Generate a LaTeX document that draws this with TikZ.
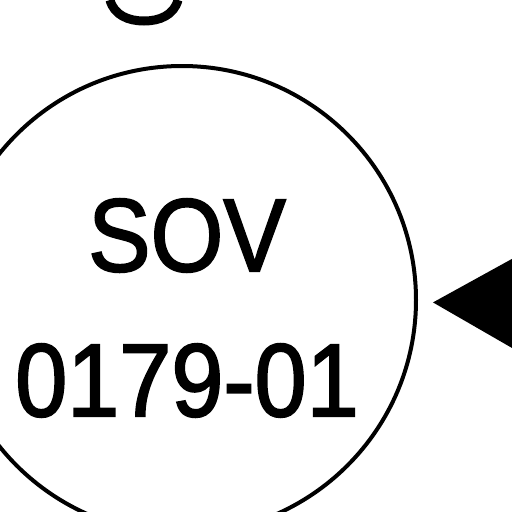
\documentclass[tikz,border=0pt]{standalone}
\usepackage{fontspec}
\setmainfont{Liberation Sans}
\newfontfamily\tagfont[FakeStretch=0.9,FakeBold=1.8]{Liberation Sans}
\usetikzlibrary{arrows.meta}

\tikzset{
  valve/.style={circle, draw, line width=4pt, minimum size=468pt, inner sep=0pt},
  tagtext/.style={align=center, inner sep=0pt, font=\tagfont\fontsize{104}{145}\selectfont},
  flow/.style={line width=3pt, -{Triangle[length=100pt,width=112pt]}, shorten >=15pt}
}

\begin{document}
\begin{tikzpicture}[x=1pt,y=1pt]
\useasboundingbox (0,0) rectangle (512,-512);
\clip (0,0) rectangle (512,-512);
\node[valve] (sov) at (182,-300) {};
\node[tagtext] (tag) at (187,-308) {SOV\\0179-01};
\coordinate (feed) at (700,-305);
\draw[flow] (feed) -- (sov);
% tail of the label above
\draw[line width=9pt] (110,0) to[out=-75,in=180] (144,-21) to[out=0,in=-105] (178,0);
\end{tikzpicture}
\end{document}
